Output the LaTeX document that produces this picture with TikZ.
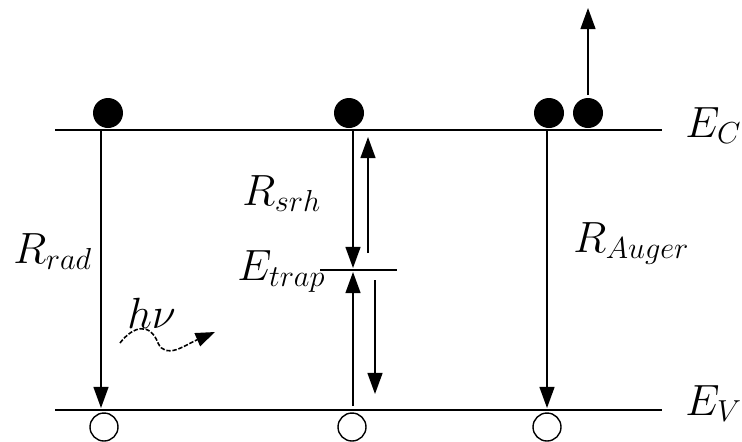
\documentclass[tikz,border=0pt]{standalone}
\usepackage{amsmath}
\usetikzlibrary{arrows.meta}
\tikzset{
  level/.style={line width=1.1pt},
  arrow/.style={-{Triangle[length=12pt,width=8.5pt]}, line width=0.9pt},
  photon/.style={-{Triangle[length=11pt,width=8pt]}, line width=0.9pt, dash pattern=on 2.5pt off 1pt},
  electron/.style={circle, fill=black, minimum size=0.6cm, inner sep=0pt},
  hole/.style={circle, draw=black, line width=0.8pt, fill=white, minimum size=0.56cm, inner sep=0pt},
  lbl/.style={font=\fontsize{26}{31}\selectfont, inner sep=0pt, anchor=base west}
}

\begin{document}
\begin{tikzpicture}[x=0.02cm, y=-0.02cm]
  \useasboundingbox (0,0) rectangle (742,441);
  % band edges
  \coordinate (ecL) at (55,130);
  \coordinate (ecR) at (662,130);
  \coordinate (evL) at (55,410);
  \coordinate (evR) at (662,410);
  \draw[level] (ecL) -- (ecR);
  \draw[level] (evL) -- (evR);
  \node[lbl] (ec) at (685,137) {$E_C$};
  \node[lbl] (ev) at (685,415) {$E_V$};
  % trap level
  \coordinate (trL) at (320,270);
  \coordinate (trR) at (397,270);
  \draw[level] (trL) -- (trR);
  \node[lbl] (etrap) at (237,280) {$E_{trap}$};
  % carriers
  \node[electron] (e1) at (108,113) {};
  \node[electron] (e2) at (349,113) {};
  \node[electron] (e3) at (549,113) {};
  \node[electron] (e4) at (588,113) {};
  \node[hole] (h1) at (104,427) {};
  \node[hole] (h2) at (352,427) {};
  \node[hole] (h3) at (547,427) {};
  % radiative
  \coordinate (r1) at (101,130);
  \coordinate (r2) at (101,408);
  \draw[arrow] (r1) -- (r2);
  \node[lbl] (rrad) at (13,263) {$R_{rad}$};
  \coordinate (w1) at (120,343);
  \coordinate (w2) at (215,332);
  \draw[photon] (w1) .. controls (133,326) and (150,322) .. (158,343)
    .. controls (166,360) and (185,345) .. (w2);
  \node[lbl] (hnu) at (127,328) {$h\nu$};
  % SRH
  \coordinate (s1) at (353,130);
  \coordinate (s2) at (353,268);
  \coordinate (s3) at (368,253);
  \coordinate (s4) at (368,137);
  \coordinate (s5) at (353,406);
  \coordinate (s6) at (353,272);
  \coordinate (s7) at (375,280);
  \coordinate (s8) at (375,394);
  \draw[arrow] (s1) -- (s2);
  \draw[arrow] (s3) -- (s4);
  \draw[arrow] (s5) -- (s6);
  \draw[arrow] (s7) -- (s8);
  \node[lbl] (rsrh) at (242,205) {$R_{srh}$};
  % Auger
  \coordinate (a1) at (547,130);
  \coordinate (a2) at (547,408);
  \draw[arrow] (a1) -- (a2);
  \coordinate (a3) at (588,95);
  \coordinate (a4) at (588,8);
  \draw[arrow] (a3) -- (a4);
  \node[lbl] (raug) at (573,252) {$R_{Auger}$};
\end{tikzpicture}
\end{document}
